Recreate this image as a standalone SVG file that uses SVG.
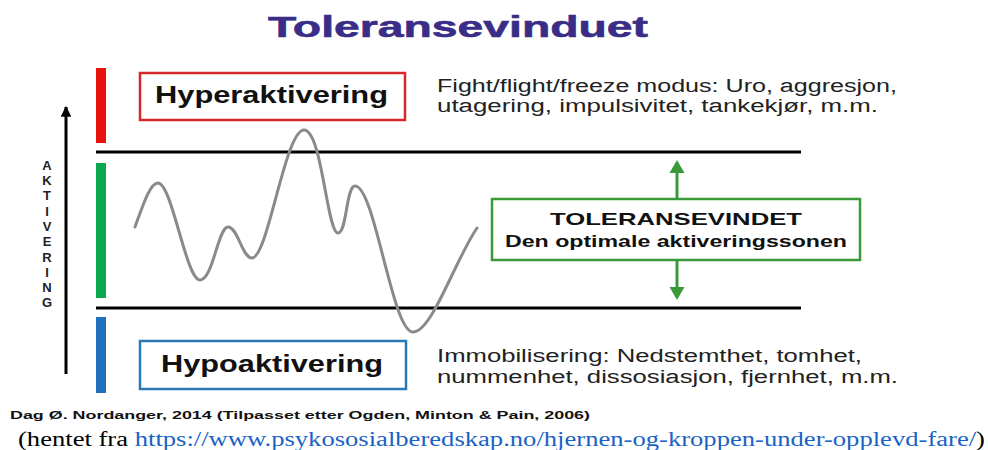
<svg xmlns="http://www.w3.org/2000/svg" width="988" height="450" viewBox="0 0 988 450">
<defs>
<style>
.sans{font-family:"Liberation Sans",Arial,sans-serif;}
.title{font-size:30px;font-weight:bold;fill:#3a2d87;stroke:#3a2d87;stroke-width:0.6;}
.boxlabel{font-size:23px;font-weight:bold;fill:#111;}
.desc{font-size:18px;fill:#222;}
.axis{font-size:13px;font-weight:bold;fill:#222;}
.sep{stroke:#000;stroke-width:3;}
.garrow{stroke:#3a9a3a;stroke-width:3;}
.ghead{fill:#3a9a3a;}
</style>
<marker id="ahBlack" viewBox="0 0 10 10" refX="9" refY="5" markerWidth="4" markerHeight="3.6" orient="auto" markerUnits="strokeWidth">
<path d="M0,0 L10,5 L0,10 Z" fill="#000"/>
</marker>
</defs>
<rect width="988" height="450" fill="#fff"/>

<text class="sans title" x="268" y="37" textLength="380" lengthAdjust="spacingAndGlyphs">Toleransevinduet</text>

<g id="axis">
<line x1="66" y1="374" x2="66" y2="107" stroke="#000" stroke-width="3" marker-end="url(#ahBlack)"/>
<text class="sans axis" x="47" text-anchor="middle">
<tspan x="47" y="170">A</tspan><tspan x="47" y="185">K</tspan><tspan x="47" y="200">T</tspan><tspan x="47" y="216">I</tspan><tspan x="47" y="231">V</tspan><tspan x="47" y="246">E</tspan><tspan x="47" y="262">R</tspan><tspan x="47" y="277">I</tspan><tspan x="47" y="292">N</tspan><tspan x="47" y="307">G</tspan>
</text>
</g>

<g id="bars">
<rect x="96" y="68" width="10" height="75" fill="#e8120c"/>
<rect x="96" y="163" width="10" height="135" fill="#0aa84f"/>
<rect x="96" y="317" width="10" height="76" fill="#1f6fbd"/>
</g>

<g id="connectors">
<line class="sep" x1="96" y1="152" x2="801" y2="152"/>
<line class="sep" x1="96" y1="308" x2="801" y2="308"/>
<line class="garrow" x1="677" y1="199" x2="677" y2="172"/>
<polygon class="ghead" points="677,160 684.5,173 669.5,173"/>
<line class="garrow" x1="677" y1="260" x2="677" y2="288"/>
<polygon class="ghead" points="677,300 684.5,287 669.5,287"/>
</g>

<g id="wave">
<path d="M135,227 C143,205 150,183 158,183 C172,183 186,280 200,280 C213,280 218,227 228,227 C238,227 242,258 252,258 C268,258 285,130 304,130 C322,130 327,233 338,233 C347,233 346,186 355,186 C375,186 392,332 413,332 C432,332 455,260 477,228" fill="none" stroke="#8a8a8a" stroke-width="3" stroke-linecap="round"/>
</g>

<g id="hyper">
<rect x="140" y="73" width="265" height="47" fill="#fff" stroke="#d8262a" stroke-width="2.5"/>
<text class="sans boxlabel" x="155" y="103" textLength="233" lengthAdjust="spacingAndGlyphs">Hyperaktivering</text>
</g>
<g id="hyper-desc">
<text class="sans desc" x="437" y="92" textLength="460" lengthAdjust="spacingAndGlyphs">Fight/flight/freeze modus: Uro, aggresjon,</text>
<text class="sans desc" x="437" y="112" textLength="441" lengthAdjust="spacingAndGlyphs">utagering, impulsivitet, tankekjør, m.m.</text>
</g>

<g id="window">
<rect x="492" y="199" width="368" height="61" fill="#fff" stroke="#3a9a3a" stroke-width="2.5"/>
<text class="sans" x="676" y="225" text-anchor="middle" font-size="17" font-weight="bold" fill="#111" textLength="252" lengthAdjust="spacingAndGlyphs">TOLERANSEVINDET</text>
<text class="sans" x="676" y="247" text-anchor="middle" font-size="16" font-weight="bold" fill="#111" textLength="342" lengthAdjust="spacingAndGlyphs">Den optimale aktiveringssonen</text>
</g>

<g id="hypo">
<rect x="140" y="341" width="266" height="48" fill="#fff" stroke="#2a7ab8" stroke-width="2.5"/>
<text class="sans boxlabel" x="161" y="372" textLength="222" lengthAdjust="spacingAndGlyphs">Hypoaktivering</text>
</g>
<g id="hypo-desc">
<text class="sans desc" x="437" y="362" textLength="425" lengthAdjust="spacingAndGlyphs">Immobilisering: Nedstemthet, tomhet,</text>
<text class="sans desc" x="437" y="383" textLength="461" lengthAdjust="spacingAndGlyphs">nummenhet, dissosiasjon, fjernhet, m.m.</text>
</g>

<text class="sans" x="10" y="419" font-size="11.5" font-weight="bold" fill="#111" textLength="580" lengthAdjust="spacingAndGlyphs">Dag Ø. Nordanger, 2014 (Tilpasset etter Ogden, Minton &amp; Pain, 2006)</text>
<text x="18" y="446" font-family="'Liberation Serif','Times New Roman',serif" font-size="20" fill="#000" textLength="967" lengthAdjust="spacingAndGlyphs">(hentet fra <tspan fill="#1a63c4">https://www.psykososialberedskap.no/hjernen-og-kroppen-under-opplevd-fare/</tspan>)</text>
</svg>
